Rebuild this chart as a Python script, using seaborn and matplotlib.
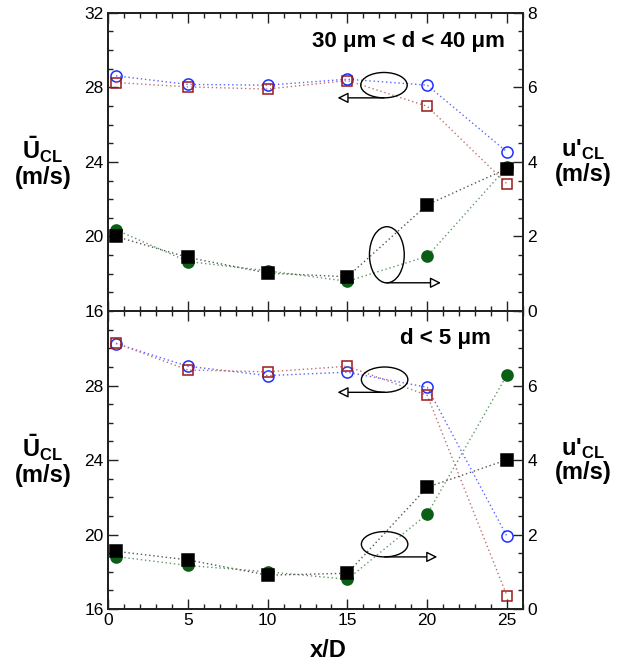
import matplotlib
matplotlib.use("Agg")
import matplotlib.pyplot as plt
from matplotlib.patches import Ellipse
from matplotlib.ticker import MultipleLocator, FixedLocator
import seaborn as sns
import pandas as pd

# Axial stations
x_d = [0.5, 5, 10, 15, 20, 25]

# 30 um < d < 40 um
u_mean_circ_top = [28.61, 28.15, 28.11, 28.43, 28.11, 24.53]
u_mean_sq_top = [28.25, 28.02, 27.90, 28.36, 26.98, 22.82]
u_rms_sq_top = [2.00, 1.44, 1.02, 0.92, 2.85, 3.82]
u_rms_circ_top = [2.18, 1.33, 1.08, 0.80, 1.47, 3.86]

# d < 5 um
u_mean_circ_bot = [30.26, 29.04, 28.54, 28.72, 27.91, 19.90]
u_mean_sq_bot = [30.28, 28.84, 28.74, 29.04, 27.48, 16.70]
u_rms_sq_bot = [1.55, 1.32, 0.91, 0.96, 3.27, 4.01]
u_rms_circ_bot = [1.41, 1.17, 1.00, 0.80, 2.55, 6.29]

panel_titles = ["30 \u03bcm < d < 40 \u03bcm", "d < 5 \u03bcm"]

sns.set_style("ticks")
plt.rcParams["font.family"] = ["Liberation Sans", "DejaVu Sans"]
plt.rcParams["mathtext.fontset"] = "custom"
plt.rcParams["mathtext.rm"] = "Liberation Sans"
plt.rcParams["mathtext.bf"] = "Liberation Sans:bold"
plt.rcParams["mathtext.it"] = "Liberation Sans:italic"
plt.rcParams["text.color"] = "black"
plt.rcParams["axes.labelcolor"] = "black"
plt.rcParams["xtick.color"] = "black"
plt.rcParams["ytick.color"] = "black"

BLUE = "#1f2fff"
RED = "#9a1a1a"
GREEN = "#0b5e16"
BLACK = "#000000"

fig = plt.figure(figsize=(6.29, 6.62), dpi=100)
left, right = 108 / 629, 523 / 629
ax_top = fig.add_axes([left, 0.530, right - left, 0.451])
ax_bot = fig.add_axes([left, 0.080, right - left, 0.450])


def series(ax, y, color, line_color, marker, filled, ms):
    df = pd.DataFrame({"x": x_d, "y": y})
    sns.lineplot(
        data=df, x="x", y="y", ax=ax, color=line_color, linestyle=(0, (1, 2)),
        linewidth=1.0, marker=marker, markersize=ms,
        markerfacecolor=color if filled else "none",
        markeredgecolor=color, markeredgewidth=1.1, sort=False,
    )


def style_axes(ax, ax2, is_top):
    ax.set_xlim(0, 26)
    ax.set_ylim(16, 32)
    ax2.set_ylim(0, 8)
    ax.xaxis.set_major_locator(MultipleLocator(5))
    ax.xaxis.set_minor_locator(MultipleLocator(1))
    if is_top:
        ax.yaxis.set_major_locator(MultipleLocator(4))
        ax2.yaxis.set_major_locator(MultipleLocator(2))
    else:
        ax.yaxis.set_major_locator(FixedLocator([16, 20, 24, 28]))
        ax2.yaxis.set_major_locator(FixedLocator([0, 2, 4, 6]))
    ax.yaxis.set_minor_locator(MultipleLocator(1))
    ax2.yaxis.set_minor_locator(MultipleLocator(0.5))
    ax.tick_params(axis="both", which="both", direction="in", top=True,
                   right=False, labelsize=12.5, color="#222222", pad=3)
    ax.tick_params(which="major", length=7, width=1.0)
    ax.tick_params(which="minor", length=3.5, width=1.0)
    ax2.tick_params(axis="y", which="both", direction="in", labelsize=12.5,
                    color="#222222", pad=3)
    ax2.tick_params(which="major", length=7, width=1.0)
    ax2.tick_params(which="minor", length=3.5, width=1.0)
    for a in (ax, ax2):
        for s in a.spines.values():
            s.set_visible(True)
            s.set_linewidth(1.4)
            s.set_color("#222222")
    ax.set_ylabel(r"$\mathbf{\bar{U}}_{\mathbf{CL}}$" + "\n(m/s)", rotation=0,
                  fontsize=17, fontweight="bold", va="center", ha="center",
                  linespacing=1.05)
    ax.yaxis.set_label_coords(-0.157, 0.5)
    ax2.set_ylabel("u'" + r"$_{\mathbf{CL}}$" + "\n(m/s)",
                   rotation=0, fontsize=17, fontweight="bold", va="center",
                   ha="center", linespacing=1.05)
    ax2.yaxis.set_label_coords(1.145, 0.5)


def marker_ring(ax, center, w, h, y_arrow, x_end):
    ax.add_patch(Ellipse(center, w, h, fill=False, ec="black", lw=1.0, zorder=5))
    ax.annotate("", xy=(x_end, y_arrow), xytext=(center[0], y_arrow),
                arrowprops=dict(arrowstyle="-|>", fc="white", ec="black",
                                lw=1.0, mutation_scale=16, shrinkA=0, shrinkB=0),
                zorder=5)


panels = [
    (ax_top, u_mean_circ_top, u_mean_sq_top, u_rms_sq_top, u_rms_circ_top,
     ((17.29, 28.11), 2.91, 1.36, 27.43, 14.38),
     ((17.47, 1.51), 2.18, 1.505, 0.76, 20.86),
     (18.8, 30.44)),
    (ax_bot, u_mean_circ_bot, u_mean_sq_bot, u_rms_sq_bot, u_rms_circ_bot,
     ((17.33, 28.32), 2.91, 1.36, 27.64, 14.38),
     ((17.33, 1.74), 2.91, 0.68, 1.40, 20.63),
     (21.13, 30.51)),
]

for i, (ax, um_c, um_s, ur_s, ur_c, ring_l, ring_r, txt) in enumerate(panels):
    ax2 = ax.twinx()
    series(ax, um_c, BLUE, "#5a66ff", "o", False, 8)
    series(ax, um_s, RED, "#c07070", "s", False, 7.5)
    series(ax2, ur_c, GREEN, "#5f9a66", "o", True, 8)
    series(ax2, ur_s, BLACK, "#555555", "s", True, 8)
    style_axes(ax, ax2, i == 0)
    marker_ring(ax, *ring_l)
    marker_ring(ax2, *ring_r)
    ax.text(txt[0], txt[1], panel_titles[i], fontsize=16, fontweight="bold",
            ha="center", va="center")
    if i == 0:
        ax.tick_params(labelbottom=False)
        ax.set_xlabel("")
    else:
        ax.set_xlabel("x/D", fontsize=17, fontweight="bold", labelpad=2)
        ax.xaxis.set_label_coords(13.8 / 26, -0.1)
    ax2.set_xlim(0, 26)

fig.savefig("out.png", dpi=100)
